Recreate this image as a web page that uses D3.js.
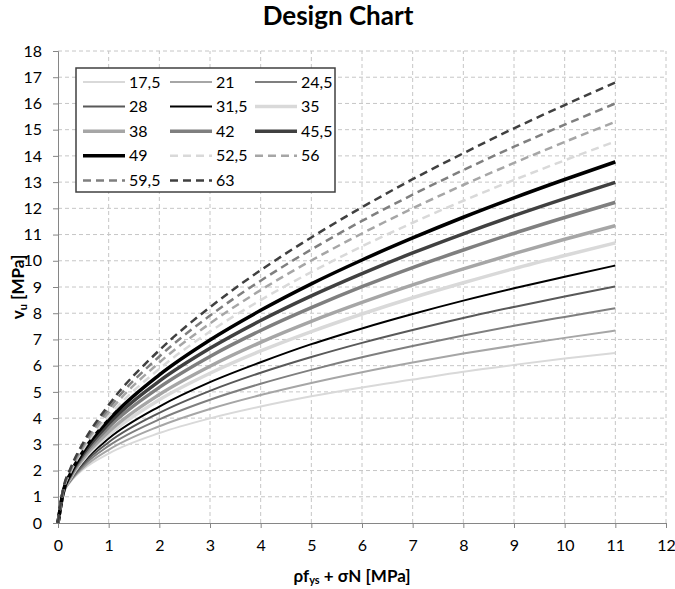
<!DOCTYPE html>
<html lang="en">
<head>
  <meta charset="UTF-8" />
  <title>Design Chart</title>
  <script src="https://d3js.org/d3.v7.min.js"></script>
  <style>
    body {
      margin: 0;
      background: #fff;
      font-family: Lato, "Open Sans", sans-serif;
    }

    .tick text {
      font-size: 16px;
      fill: #000;
      font-family: Lato, "Open Sans", sans-serif;
    }

    .grid line {
      stroke: #c6c6c6;
      stroke-dasharray: 4, 3;
    }

    .legend-label {
      font-size: 16px;
      fill: #000;
    }
  </style>
</head>
<body>
  <div id="chart"></div>
  <script>
    // x positions where the curves were read (rho*fys + sigmaN, MPa)
    const xValues = [0, 0.1, 0.25, 0.5, 1, 2, 3, 4, 5, 6, 7, 8, 9, 10, 11];

    // legend labels (concrete strength)
    const labels = ["17,5", "21", "24,5", "28", "31,5", "35", "38", "42", "45,5", "49", "52,5", "56", "59,5", "63"];

    // vu [MPa], one array per curve
    const v17_5 = [0, 1.12, 1.58, 2.05, 2.65, 3.43, 3.99, 4.44, 4.83, 5.17, 5.47, 5.77, 6.03, 6.27, 6.48];
    const v21 = [0, 1.10, 1.60, 2.11, 2.79, 3.69, 4.35, 4.88, 5.34, 5.75, 6.12, 6.46, 6.77, 7.06, 7.34];
    const v24_5 = [0, 1.10, 1.62, 2.18, 2.94, 3.95, 4.70, 5.31, 5.84, 6.32, 6.75, 7.15, 7.52, 7.86, 8.19];
    const v28 = [0, 1.10, 1.65, 2.25, 3.08, 4.20, 5.04, 5.73, 6.33, 6.87, 7.36, 7.82, 8.24, 8.64, 9.02];
    const v31_5 = [0, 1.10, 1.69, 2.33, 3.22, 4.44, 5.37, 6.13, 6.82, 7.42, 7.97, 8.48, 8.95, 9.39, 9.82];
    const v35 = [0, 1.11, 1.72, 2.41, 3.36, 4.70, 5.71, 6.56, 7.30, 7.97, 8.59, 9.16, 9.70, 10.20, 10.68];
    const v38 = [0, 1.12, 1.76, 2.48, 3.48, 4.90, 5.98, 6.89, 7.69, 8.41, 9.08, 9.69, 10.27, 10.82, 11.34];
    const v42 = [0, 1.14, 1.81, 2.57, 3.65, 5.17, 6.35, 7.34, 8.21, 9.01, 9.74, 10.41, 11.05, 11.65, 12.23];
    const v45_5 = [0, 1.16, 1.86, 2.65, 3.79, 5.41, 6.66, 7.72, 8.66, 9.51, 10.30, 11.03, 11.72, 12.37, 12.99];
    const v49 = [0, 1.18, 1.90, 2.74, 3.93, 5.65, 6.98, 8.11, 9.12, 10.03, 10.87, 11.66, 12.40, 13.10, 13.77];
    const v52_5 = [0, 1.20, 1.95, 2.82, 4.07, 5.88, 7.30, 8.50, 9.57, 10.55, 11.45, 12.29, 13.08, 13.83, 14.55];
    const v56 = [0, 1.22, 2.00, 2.90, 4.22, 6.12, 7.61, 8.88, 10.01, 11.04, 12.00, 12.89, 13.73, 14.53, 15.30];
    const v59_5 = [0, 1.25, 2.05, 2.99, 4.36, 6.35, 7.91, 9.24, 10.43, 11.52, 12.52, 13.46, 14.35, 15.19, 16.00];
    const v63 = [0, 1.27, 2.10, 3.07, 4.50, 6.59, 8.23, 9.64, 10.89, 12.04, 13.11, 14.10, 15.05, 15.94, 16.80];

    const allSeries = [v17_5, v21, v24_5, v28, v31_5, v35, v38, v42, v45_5, v49, v52_5, v56, v59_5, v63];

    // line look per curve, same order as labels
    const lineColors = ["#d9d9d9", "#a6a6a6", "#7f7f7f", "#595959", "#000000",
      "#d9d9d9", "#a6a6a6", "#7f7f7f", "#404040", "#000000",
      "#d9d9d9", "#a6a6a6", "#7f7f7f", "#404040"];
    const lineWidths = [2, 2, 2, 2, 2, 3.5, 3.5, 3.5, 3.5, 3.5, 2.5, 2.5, 2.5, 2.5];
    const lineDashes = [null, null, null, null, null, null, null, null, null, null, "8,5", "8,5", "8,5", "8,5"];

    const width = 675, height = 589;
    const margin = { top: 51, right: 9, bottom: 66, left: 58 };

    const svg = d3.select("#chart").append("svg")
      .attr("width", width)
      .attr("height", height);

    const x = d3.scaleLinear().domain([0, 12]).range([margin.left, width - margin.right]);
    const y = d3.scaleLinear().domain([0, 18]).range([height - margin.bottom, margin.top]);

    // title
    svg.append("text")
      .attr("x", 338)
      .attr("y", 25)
      .attr("text-anchor", "middle")
      .attr("font-size", "26px")
      .attr("font-weight", "bold")
      .text("Design Chart");

    // dashed grid
    svg.append("g")
      .attr("class", "grid")
      .selectAll("line.h")
      .data(d3.range(1, 19))
      .join("line")
      .attr("x1", x(0)).attr("x2", x(12))
      .attr("y1", d => y(d)).attr("y2", d => y(d));

    svg.append("g")
      .attr("class", "grid")
      .selectAll("line.v")
      .data(d3.range(1, 13))
      .join("line")
      .attr("y1", y(0)).attr("y2", y(18))
      .attr("x1", d => x(d)).attr("x2", d => x(d));

    // axes
    svg.append("g")
      .attr("transform", `translate(0,${y(0)})`)
      .call(d3.axisBottom(x).ticks(12).tickSize(5).tickPadding(12).tickFormat(d3.format("d")))
      .call(g => g.selectAll("path,line").attr("stroke", "#868686"));

    svg.append("g")
      .attr("transform", `translate(${x(0)},0)`)
      .call(d3.axisLeft(y).ticks(18).tickSize(5).tickPadding(11).tickFormat(d3.format("d")))
      .call(g => g.selectAll("path,line").attr("stroke", "#868686"));

    // axis titles
    svg.append("text")
      .attr("transform", `translate(24,${(y(0) + y(18)) / 2}) rotate(-90)`)
      .attr("text-anchor", "middle")
      .attr("font-size", "17px")
      .attr("font-weight", "bold")
      .html('v<tspan font-size="11px" dy="3">u</tspan><tspan dy="-3"> [MPa]</tspan>');

    svg.append("text")
      .attr("x", 352)
      .attr("y", 582)
      .attr("text-anchor", "middle")
      .attr("font-size", "17px")
      .attr("font-weight", "bold")
      .html('ρf<tspan font-size="11px" dy="2">ys</tspan><tspan dy="-2"> + σN [MPa]</tspan>');

    // curves
    const line = d3.line()
      .x((d, i) => x(xValues[i]))
      .y(d => y(d))
      .curve(d3.curveMonotoneX);

    svg.append("g")
      .selectAll("path")
      .data(allSeries)
      .join("path")
      .attr("fill", "none")
      .attr("stroke", (d, i) => lineColors[i])
      .attr("stroke-width", (d, i) => lineWidths[i])
      .attr("stroke-dasharray", (d, i) => lineDashes[i])
      .attr("d", line);

    // legend
    const legend = svg.append("g").attr("transform", "translate(76,68)");
    legend.append("rect")
      .attr("width", 259)
      .attr("height", 124)
      .attr("fill", "#fff")
      .attr("stroke", "#404040")
      .attr("stroke-width", 1.5);

    const colX = [7, 94, 179];
    const items = legend.selectAll("g.item")
      .data(labels)
      .join("g")
      .attr("class", "item")
      .attr("transform", (d, i) => `translate(${colX[i % 3]},${14 + Math.floor(i / 3) * 24.6})`);

    items.append("line")
      .attr("x1", 0).attr("x2", 42)
      .attr("stroke", (d, i) => lineColors[i])
      .attr("stroke-width", (d, i) => lineWidths[i])
      .attr("stroke-dasharray", (d, i) => lineDashes[i]);

    items.append("text")
      .attr("class", "legend-label")
      .attr("x", 46)
      .attr("dy", "0.35em")
      .text(d => d);
  </script>
</body>
</html>
